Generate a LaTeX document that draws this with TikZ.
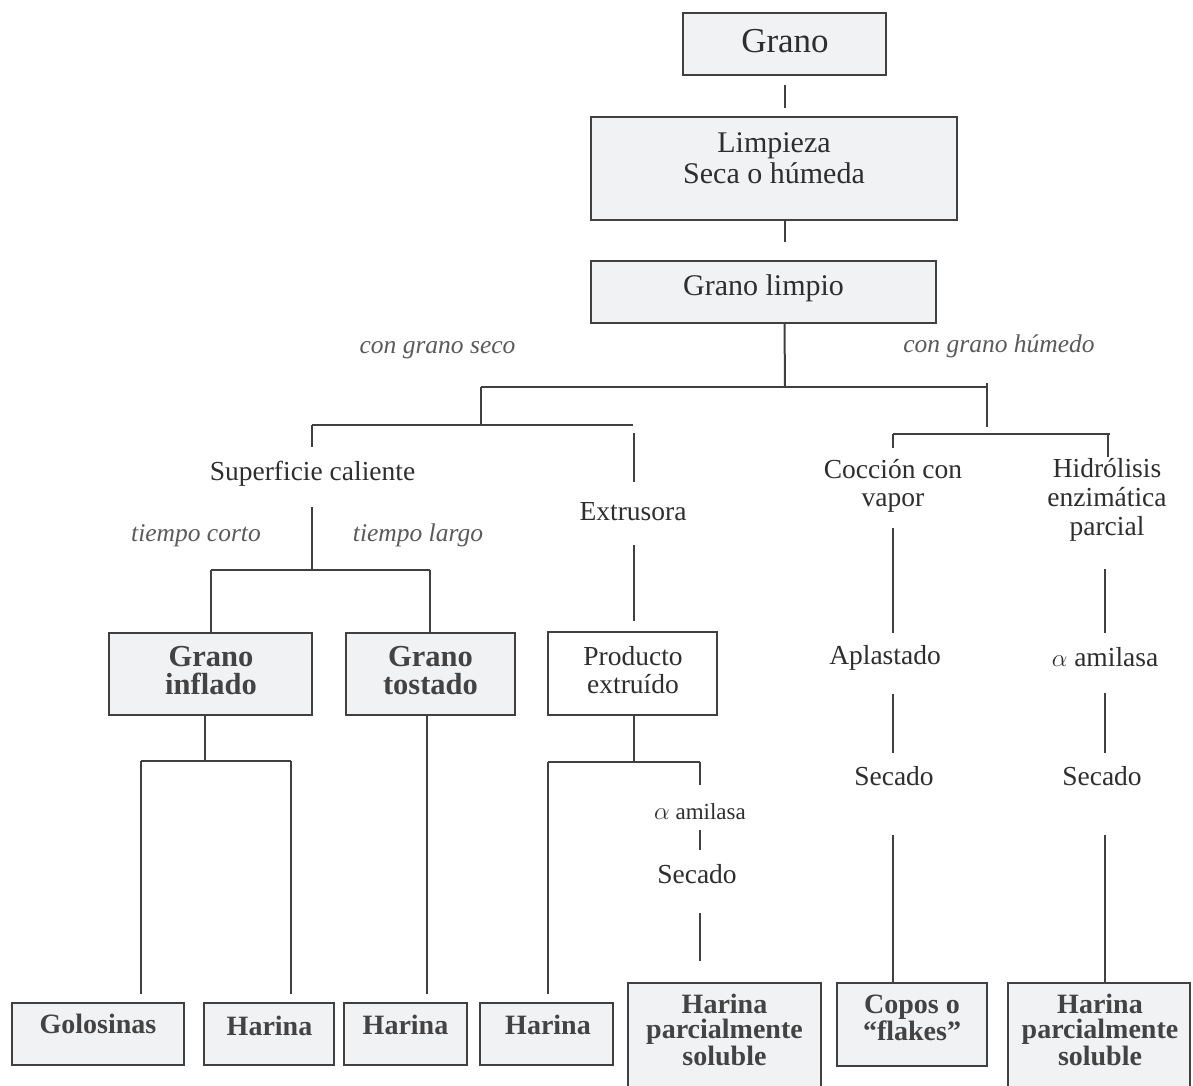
\documentclass[tikz,border=0pt]{standalone}
\usepackage{fontspec}
\setmainfont{Liberation Serif}
\usetikzlibrary{calc}
\definecolor{ln}{HTML}{404040}
\definecolor{bxfill}{HTML}{F1F2F4}
\definecolor{tx}{HTML}{2E2E2E}
\definecolor{itx}{HTML}{5A5A5A}
\begin{document}
\begin{tikzpicture}[x=1pt,y=-1pt,
  box/.style={draw=ln, line width=2pt, fill=bxfill, inner sep=0pt},
  wbox/.style={box, fill=white},
  lbl/.style={text=tx, inner sep=0pt, anchor=base, align=center},
  regl/.style={lbl, font=\fontsize{27.5}{28}\selectfont},
  itl/.style={lbl, text=itx, font=\fontsize{25.5}{28}\selectfont\itshape},
  bld/.style={lbl, text=tx!90!white, font=\fontsize{28}{25}\selectfont\bfseries},
  conn/.style={draw=ln, line width=2pt},
]
\fill[white] (0,0) rectangle (1193,1086);
\useasboundingbox (0,0) rectangle (1193,1086);
\clip (0,0) rectangle (1193,1086);

% ---------- boxes ----------
\node[box, minimum width=203pt, minimum height=62pt] (grano) at (784.5,44) {};
\node[box, minimum width=366pt, minimum height=103pt] (limp) at (774,168.5) {};
\node[box, minimum width=345pt, minimum height=62pt] (glimpio) at (763.5,292) {};
\node[box, minimum width=203pt, minimum height=82pt] (inflado) at (210.5,674) {};
\node[box, minimum width=169pt, minimum height=82pt] (tostado) at (430.5,674) {};
\node[wbox, minimum width=169pt, minimum height=83pt] (prod) at (632.5,673.5) {};
\node[box, minimum width=172pt, minimum height=62pt] (golos) at (98,1034) {};
\node[box, minimum width=130pt, minimum height=62pt] (har1) at (269,1034) {};
\node[box, minimum width=123pt, minimum height=62pt] (har2) at (405.5,1034) {};
\node[box, minimum width=133pt, minimum height=62pt] (har3) at (546.5,1034) {};
\node[box, minimum width=193pt, minimum height=117pt] (hps1) at (724.5,1041.5) {};
\node[box, minimum width=150pt, minimum height=83pt] (copos) at (912,1024.5) {};
\node[box, minimum width=182pt, minimum height=117pt] (hps2) at (1099,1041.5) {};

% ---------- texts (anchor = baseline of last line) ----------
\node[lbl, font=\fontsize{35}{40}\selectfont] (tgrano) at (785,53) {Grano};
\node[lbl, font=\fontsize{30}{31}\selectfont] (tlimp) at (774,183) {Limpieza\\Seca o húmeda};
\node[lbl, font=\fontsize{30}{31}\selectfont] (tglimpio) at (763.5,295) {Grano limpio};
\node[itl] (tseco) at (437.5,353) {con grano seco};
\node[itl] (thumedo) at (999,352) {con grano húmedo};
\node[regl] (tsup) at (312.5,480) {Superficie caliente};
\node[itl] (tcorto) at (196,541) {tiempo corto};
\node[itl] (tlargo) at (418,541) {tiempo largo};
\node[regl] (textr) at (633,520) {Extrusora};
\node[lbl, font=\fontsize{27.5}{28}\selectfont] (tcocc) at (893,506) {Cocción con\\vapor};
\node[lbl, font=\fontsize{27.5}{29}\selectfont] (thidro) at (1107,535) {Hidrólisis\\enzimática\\parcial};
\node[regl] (taplast) at (885,664) {Aplastado};
\node[regl] (tamil) at (1105,666) {$\alpha$ amilasa};
\node[regl] (tsec1) at (894,785) {Secado};
\node[regl] (tsec2) at (1102,785) {Secado};
\node[lbl, font=\fontsize{23}{26}\selectfont] (tamil2) at (700,819) {$\alpha$ amilasa};
\node[regl] (tsec3) at (697,883) {Secado};
\node[regl] (tprod) at (633,693) {Producto\\extruído};
\node[bld, font=\fontsize{30.5}{28}\selectfont\bfseries] (tinfl) at (211,694) {Grano\\inflado};
\node[bld, font=\fontsize{30.5}{28}\selectfont\bfseries] (ttost) at (430.5,694) {Grano\\tostado};
\node[bld] (tgolos) at (98,1033) {Golosinas};
\node[bld] (thar1) at (269.5,1035) {Harina};
\node[bld] (thar2) at (405.5,1034) {Harina};
\node[bld] (thar3) at (548,1034) {Harina};
\node[bld] (thps1) at (724.5,1065) {Harina\\parcialmente\\soluble};
\node[bld] (tcopos) at (912,1040) {Copos o\\“flakes”};
\node[bld] (thps2) at (1100,1065) {Harina\\parcialmente\\soluble};

% ---------- junction coordinates ----------
\coordinate (jmain) at (785,387);
\coordinate (jdryL) at (481,387);
\coordinate (jwetR) at (987,387);
\coordinate (dry1) at (312,425);
\coordinate (dry2) at (633,425);
\coordinate (wet1) at (893,434);
\coordinate (wet2) at (1110,434);
\coordinate (sup1) at (312,570);
\coordinate (tc1) at (211,570);
\coordinate (tc2) at (430,570);
\coordinate (inf1) at (205,761);
\coordinate (g1) at (141,761);
\coordinate (g2) at (291,761);
\coordinate (tosx) at (427,715);
\coordinate (pe) at (634,762);
\coordinate (pe1) at (548,762);
\coordinate (pe2) at (700,762);
\coordinate (hcol) at (1105,569);

% ---------- connectors ----------
\draw[conn] (grano.south) ++(0,9) -- ++(0,23);
\draw[conn] (limp.south -| grano.south) -- ++(0,21);
\draw[conn] (glimpio.south -| grano.south) -- (jmain);
\draw[conn] (jdryL) -- (jwetR);
\draw[conn] (jdryL) -- (jdryL |- dry1);
\draw[conn] (jwetR) ++(0,-4) -- ++(0,44);
\draw[conn] (dry1) -- (dry2);
\draw[conn] (dry1) -- ++(0,22);
\draw[conn] (dry2) ++(1,8) -- ++(0,49);
\draw[conn] (wet1) -- (wet2);
\draw[conn] (wet1) -- ++(0,14);
\draw[conn] (wet2) ++(-2,0) -- ++(0,23);

\draw[conn] (tsup.base -| sup1) ++(0,27) -- (sup1);
\draw[conn] (tc1) -- (tc2);
\draw[conn] (tc1) -- (tc1 |- inflado.north);
\draw[conn] (tc2) -- (tc2 |- tostado.north);

\draw[conn] (inf1 |- inflado.south) -- (inf1);
\draw[conn] (g1) -- (g2);
\draw[conn] (g1) -- ($(g1 |- golos.north)+(0,-8)$);
\draw[conn] (g2) -- ($(g2 |- har1.north)+(0,-8)$);
\draw[conn] (tosx |- tostado.south) -- ($(tosx |- har2.north)+(0,-8)$);

\draw[conn] (textr.base -| pe) ++(0,25) -- ($(pe |- prod.north)+(0,-10)$);
\draw[conn] (prod.south -| pe) -- (pe);
\draw[conn] (pe1) -- (pe2);
\draw[conn] (pe1) -- ($(pe1 |- har3.north)+(0,-8)$);
\draw[conn] (pe2) -- ++(0,23);
\draw[conn] (pe2 |- tamil2.base) ++(0,11) -- ++(0,20);
\draw[conn] (pe2 |- tsec3.base) ++(0,30) -- ($(pe2 |- hps1.north)+(0,-21)$);

\draw[conn] (wet1 |- tcocc.base) ++(0,22) -- ($(wet1 |- taplast.base)+(0,-31)$);
\draw[conn] (wet1 |- taplast.base) ++(0,30) -- ($(wet1 |- tsec1.base)+(0,-32)$);
\draw[conn] (wet1 |- tsec1.base) ++(0,50) -- (wet1 |- copos.north);

\draw[conn] (hcol) -- ($(hcol |- tamil.base)+(0,-33)$);
\draw[conn] (hcol |- tamil.base) ++(0,27) -- ($(hcol |- tsec2.base)+(0,-32)$);
\draw[conn] (hcol |- tsec2.base) ++(0,50) -- (hcol |- hps2.north);
\end{tikzpicture}
\end{document}
